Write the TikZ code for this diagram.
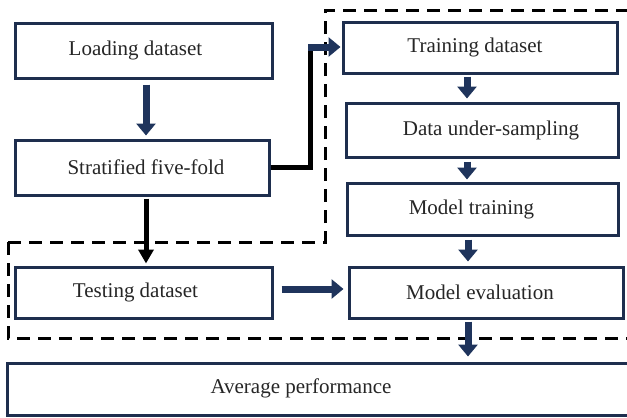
\documentclass[tikz,border=0pt]{standalone}
\usepackage{fontspec}
\setmainfont{Liberation Serif}
\usetikzlibrary{arrows.meta}
\definecolor{navy}{RGB}{30,46,78}
\definecolor{navyarr}{RGB}{31,52,92}
\tikzset{
  tbox/.style={draw=navy, line width=3pt, fill=white, inner sep=0pt},
  txt/.style={font=\fontsize{21}{25}\selectfont, text=black!85, inner sep=0pt},
  navyarrow/.style={draw=navyarr, line width=7pt, -{Triangle[width=19pt,length=12pt]}},
  blackarrow/.style={draw=black, line width=5pt, -{Triangle[width=15pt,length=14pt]}},
  blackline/.style={draw=black, line width=5pt},
  dashline/.style={draw=black, line width=3pt, dash pattern=on 13pt off 8pt}
}
\begin{document}
\begin{tikzpicture}[x=1pt,y=-1pt]
\useasboundingbox (0,0) rectangle (627,418);
\fill[white] (0,0) rectangle (627,418);
% dashed regions
\draw[dashline] (8,242) -- (325,242) -- (325,10) -- (645,10);
\draw[dashline] (8,242) -- (8,338) -- (645,338);
% boxes
\node[tbox, minimum width=257pt, minimum height=55pt, label={[txt,xshift=-8pt]center:Loading dataset}] (load) at (143.5,50.5) {};
\node[tbox, minimum width=254pt, minimum height=55pt, label={[txt,xshift=4pt]center:Stratified five-fold}] (strat) at (142,167.5) {};
\node[tbox, minimum width=274pt, minimum height=51pt, label={[txt,xshift=-5pt]center:Training dataset}] (train) at (480,47.5) {};
\node[tbox, minimum width=272pt, minimum height=54pt, label={[txt,xshift=9pt]center:Data under-sampling}] (under) at (482,130) {};
\node[tbox, minimum width=271pt, minimum height=52pt, label={[txt,xshift=-11pt]center:Model training}] (mtrain) at (482.5,209) {};
\node[tbox, minimum width=274pt, minimum height=51pt, label={[txt,xshift=-6pt]center:Model evaluation}] (eval) at (486,292.5) {};
\node[tbox, minimum width=257pt, minimum height=51pt, label={[txt,xshift=-8pt]center:Testing dataset}] (test) at (143.5,292.5) {};
\node[tbox, minimum width=633pt, minimum height=52pt] (avg) at (323.5,389) {};
\node[txt] (avgtxt) at (301,388) {Average performance};
% helper coordinates
\coordinate (xa) at (146,0);
\coordinate (xb) at (467,0);
\coordinate (xc) at (468,0);
\coordinate (yt) at (0,289);
\coordinate (bend1) at (310,167.5);
\coordinate (bend2) at (310,47);
\coordinate (bend3) at (308,47);
% connectors
\draw[navyarrow, shorten <=5pt, shorten >=3pt] (load.south -| xa) -- (strat.north -| xa);
\draw[blackline] (strat.east) -- (bend1) -- (bend2);
\draw[navyarrow, shorten >=1pt] (bend3) -- (train.west |- bend3);
\draw[blackarrow, shorten <=2pt, shorten >=2pt] (strat.south -| xa) -- (test.north -| xa);
\draw[navyarrow, shorten <=2pt, shorten >=3pt] (train.south -| xb) -- (under.north -| xb);
\draw[navyarrow, shorten <=3pt, shorten >=2pt] (under.south -| xb) -- (mtrain.north -| xb);
\draw[navyarrow, shorten <=3pt, shorten >=4pt] (mtrain.south -| xc) -- (eval.north -| xc);
\draw[navyarrow, shorten <=2pt, shorten >=5pt] (eval.south -| xc) -- (avg.north -| xc);
\draw[navyarrow, shorten <=8pt, shorten >=4pt] (test.east |- yt) -- (eval.west |- yt);
\end{tikzpicture}
\end{document}
